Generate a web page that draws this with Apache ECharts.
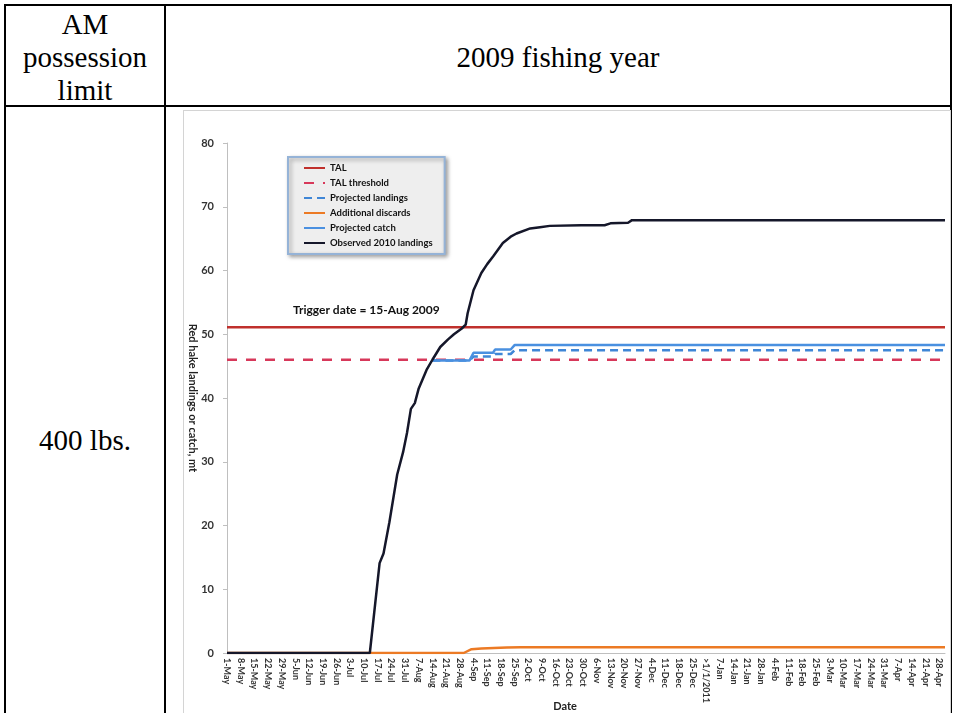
<!DOCTYPE html>
<html>
<head>
<meta charset="utf-8">
<script src="https://cdn.jsdelivr.net/npm/echarts@6/dist/echarts.min.js"></script>
<style>
  body { margin: 0; background: #fff; width: 954px; height: 713px; overflow: hidden; position: relative; }
  .ln { position: absolute; background: #000; }
  .cell { position: absolute; font-family: "Liberation Serif", serif; font-size: 29px; color: #000; text-align: center; line-height: 33px; }
  #main { position: absolute; left: 183px; top: 110px; width: 766px; height: 603px; border: 1px solid #d4d4d4; border-bottom: none; }
</style>
</head>
<body>
<div class="ln" style="left:4px;top:4px;width:948px;height:2px"></div>
<div class="ln" style="left:4px;top:105px;width:948px;height:2px"></div>
<div class="ln" style="left:4px;top:4px;width:2px;height:709px"></div>
<div class="ln" style="left:164px;top:4px;width:2px;height:709px"></div>
<div class="ln" style="left:950px;top:4px;width:2px;height:709px"></div>
<div class="cell" style="left:6px;top:8px;width:158px">AM<br>possession<br>limit</div>
<div class="cell" style="left:166px;top:41px;width:784px">2009 fishing year</div>
<div class="cell" style="left:6px;top:424px;width:158px">400 lbs.</div>
<div id="main"></div>
<script>
// day index from 1-May (one category per day, ">1/1/2011" counts as one)
const tickLabels = ['1-May','8-May','15-May','22-May','29-May','5-Jun','12-Jun','19-Jun','26-Jun',
  '3-Jul','10-Jul','17-Jul','24-Jul','31-Jul','7-Aug','14-Aug','21-Aug','28-Aug',
  '4-Sep','11-Sep','18-Sep','25-Sep','2-Oct','9-Oct','16-Oct','23-Oct','30-Oct',
  '6-Nov','13-Nov','20-Nov','27-Nov','4-Dec','11-Dec','18-Dec','25-Dec','>1/1/2011',
  '7-Jan','14-Jan','21-Jan','28-Jan','4-Feb','11-Feb','18-Feb','25-Feb',
  '3-Mar','10-Mar','17-Mar','24-Mar','31-Mar','7-Apr','14-Apr','21-Apr','28-Apr'];
const lastDay = 367;

const tal = [[0, 51.1], [367, 51.1]];
const talThreshold = [[0, 46.0], [367, 46.0]];
const projLandings = [[105, 45.9], [124, 45.9], [126, 46.5], [136, 46.5], [137, 46.9], [145, 46.9], [147, 47.5], [367, 47.5]];
const addDiscards = [[0, 0], [121, 0], [125, 0.6], [130, 0.7], [143, 0.85], [150, 0.9], [367, 0.9]];
const projCatch = [[105, 45.9], [124, 45.9], [126, 47.1], [136, 47.1], [137, 47.6], [145, 47.6], [147, 48.3], [367, 48.3]];
const observed = [[0, 0], [73, 0], [78, 14.1], [80, 15.6], [83, 20.5], [87, 28], [90, 31.5], [92, 34.5],
  [94, 38.3], [96, 39.2], [98, 41.5], [102, 44.4], [105, 46], [109, 48], [113, 49.2], [116, 50],
  [120, 50.9], [122, 51.5], [123, 53.3], [126, 56.9], [130, 59.6], [133, 61], [136, 62.2],
  [141, 64.3], [145, 65.3], [148, 65.8], [155, 66.6], [160, 66.8], [165, 67.0], [181, 67.1],
  [193, 67.1], [196, 67.4], [205, 67.5], [207, 67.9], [367, 67.9]];

const font = 'Lato, "Open Sans", sans-serif';

function line(name, data, color, type, width) {
  return {
    name: name, type: 'line', data: data, symbol: 'none', animation: false,
    lineStyle: { color: color, type: type, width: width },
    itemStyle: { color: color }
  };
}

let myChart = echarts.init(document.getElementById('main'));
myChart.setOption({
  animation: false,
  grid: { left: 43, top: 32, width: 718, height: 510, containLabel: false, outerBoundsMode: 'none' },
  legend: {
    orient: 'vertical', left: 104, top: 46,
    padding: [6, 12, 6, 15], itemGap: 5, itemWidth: 21, itemHeight: 10.5,
    backgroundColor: '#eeeeee', borderColor: '#95b3d7', borderWidth: 2,
    shadowBlur: 4, shadowColor: 'rgba(0,0,0,0.35)', shadowOffsetX: 2, shadowOffsetY: 2,
    itemStyle: { opacity: 0 },
    textStyle: { fontFamily: font, fontSize: 9.5, fontWeight: 'bold', color: '#111' },
    data: ['TAL', 'TAL threshold', 'Projected landings', 'Additional discards', 'Projected catch', 'Observed 2010 landings']
  },
  xAxis: {
    type: 'value', min: 0, max: lastDay, interval: 7,
    name: 'Date', nameLocation: 'middle', nameGap: 48, nameMoveOverlap: false,
    nameTextStyle: { fontFamily: font, fontSize: 11, fontWeight: 'bold', color: '#222', padding: [0, 42, 0, 0] },
    axisLine: { lineStyle: { color: '#bfbfbf' } },
    axisTick: { show: false },
    splitLine: { show: false },
    axisLabel: {
      rotate: -90, margin: 5, fontFamily: font, fontSize: 9, fontWeight: 'bold', color: '#333',
      formatter: function (v) { return tickLabels[v / 7] || ''; }
    }
  },
  yAxis: {
    type: 'value', min: 0, max: 80, interval: 10,
    name: 'Red hake landings or catch, mt', nameLocation: 'middle', nameRotate: -90, nameGap: 29,
    nameMoveOverlap: false,
    nameTextStyle: { fontFamily: font, fontSize: 11, fontWeight: 'bold', color: '#222' },
    axisLine: { show: true, lineStyle: { color: '#bfbfbf' } },
    axisTick: { show: true, length: 4, lineStyle: { color: '#bfbfbf' } },
    splitLine: { show: false },
    axisLabel: { margin: 13, fontFamily: font, fontSize: 11, fontWeight: 'bold', color: '#333' }
  },
  graphic: [{
    type: 'text', left: 109, top: 193,
    style: { text: 'Trigger date = 15-Aug 2009', font: 'bold 12px ' + font, fill: '#111' }
  }],
  series: [
    line('TAL', tal, '#c0302c', 'solid', 2.5),
    line('TAL threshold', talThreshold, '#d7385a', [10, 9], 2.5),
    line('Projected landings', projLandings, '#3f86d6', [8, 5], 2.5),
    line('Additional discards', addDiscards, '#ec7a24', 'solid', 2.5),
    line('Projected catch', projCatch, '#4a90e0', 'solid', 2.5),
    line('Observed 2010 landings', observed, '#15172a', 'solid', 2.5)
  ]
});
</script>
</body>
</html>
